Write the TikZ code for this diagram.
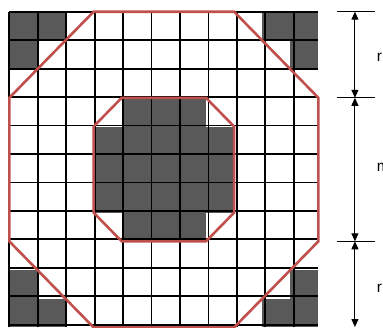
\documentclass[tikz,border=0pt]{standalone}
\usepackage{fontspec}
\setmainfont{Liberation Sans}
\usetikzlibrary{arrows.meta}
\definecolor{cellgray}{HTML}{595959}
\definecolor{octred}{HTML}{C0504D}
\begin{document}
\begin{tikzpicture}[x=28.1pt,y=-28.7pt,
  darkcell/.style={fill=cellgray},
  gridline/.style={line width=1.8pt,black},
  octline/.style={octred,line width=2.6pt,line join=miter},
  tickline/.style={black,line width=1pt},
  dimline/.style={black,line width=1pt,{Triangle[length=8pt,width=7pt]}-{Triangle[length=8pt,width=7pt]}},
  dimlabel/.style={anchor=base west,inner sep=0pt,font=\fontsize{15.5}{18}\selectfont}]
\useasboundingbox (-0.331,-0.408) rectangle (13.299,10.986);
\clip (-0.331,-0.408) rectangle (13.299,10.986);
% corner cells
\foreach \c/\r in {0/0,1/0,0/1,9/0,10/0,10/1,0/9,0/10,1/10,10/9,9/10,10/10}
  \fill[darkcell] (\c,\r) rectangle ++(1,1);
% centre cells
\foreach \r in {4,5,6}
  \foreach \c in {3,...,7}
    \fill[darkcell] (\c,\r) rectangle ++(1,1);
\foreach \r in {3,7}
  \foreach \c in {4,5,6}
    \fill[darkcell] (\c,\r) rectangle ++(1,1);
% grid
\draw[gridline] (0,0) grid (11,11);
% octagons
\draw[octline] (3,0) -- (8,0) -- (11,3) -- (11,8) -- (8,11) -- (3,11) -- (0,8) -- (0,3) -- cycle;
\draw[octline] (4,3) -- (7,3) -- (8,4) -- (8,7) -- (7,8) -- (4,8) -- (3,7) -- (3,4) -- cycle;
% dimension lines
\coordinate (d0) at (12.30,0);
\coordinate (d1) at (12.30,3);
\coordinate (d2) at (12.30,8);
\coordinate (d3) at (12.30,10.986);
\foreach \y/\n in {0/0,3/1,8/2}{
  \coordinate (ta\n) at (11.65,\y);
  \coordinate (tb\n) at (13.01,\y);
  \draw[tickline] (ta\n) -- (tb\n);
}
\draw[dimline] (d0) -- (d1);
\draw[dimline] (d1) -- (d2);
\draw[dimline] (d2) -- (d3);
\node[dimlabel] (lr1) at (13.07,1.74) {r};
\node[dimlabel] (lm) at (13.07,5.575) {m};
\node[dimlabel] (lr2) at (13.07,9.77) {r};
\end{tikzpicture}
\end{document}
